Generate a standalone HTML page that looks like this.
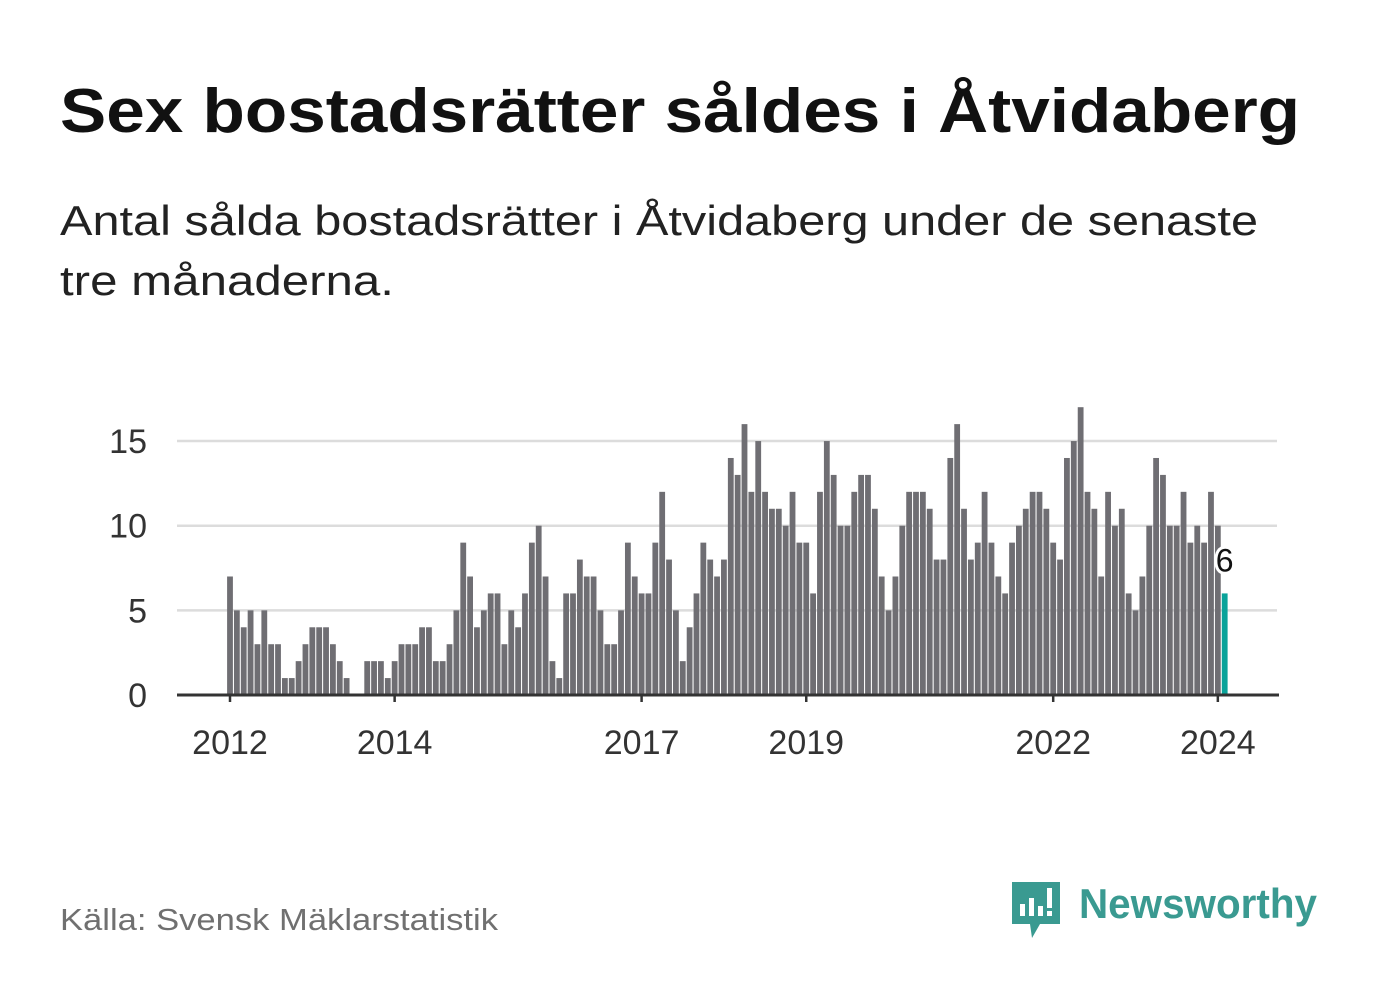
<!DOCTYPE html>
<html><head><meta charset="utf-8"><style>
html,body{margin:0;padding:0;background:#fff;}
svg{display:block;font-family:"Liberation Sans",sans-serif;}
</style></head><body>
<svg id="chart" width="1382" height="999" viewBox="0 0 1382 999">
<text x="60" y="132" font-size="62" font-weight="bold" fill="#111" textLength="1240" lengthAdjust="spacingAndGlyphs">Sex bostadsrätter såldes i Åtvidaberg</text>
<text x="60" y="235" font-size="42" fill="#222" textLength="1198" lengthAdjust="spacingAndGlyphs">Antal sålda bostadsrätter i Åtvidaberg under de senaste</text>
<text x="60" y="295" font-size="42" fill="#222" textLength="334" lengthAdjust="spacingAndGlyphs">tre månaderna.</text>
<g id="grid"></g>
<g id="bars"></g>
<g id="axes"></g>
<text x="60" y="930" font-size="31" fill="#707070" textLength="438" lengthAdjust="spacingAndGlyphs">Källa: Svensk Mäklarstatistik</text>
<g>
<path d="M1012 882 h48 v42 h-20 l-8 14 l-2 -14 h-18 z" fill="#3a9a91"/>
<rect x="1020" y="904" width="5" height="12" fill="#fff"/>
<rect x="1029" y="898" width="5" height="18" fill="#fff"/>
<rect x="1038" y="906" width="5" height="10" fill="#fff"/>
<rect x="1047" y="888" width="5" height="20" fill="#fff"/>
<rect x="1047" y="911" width="5" height="5" fill="#fff"/>
<text x="1079" y="918" font-size="42" font-weight="bold" fill="#3a9a91" textLength="238" lengthAdjust="spacingAndGlyphs">Newsworthy</text>
</g>
</svg>
<script>
const values=[7,5,4,5,3,5,3,3,1,1,2,3,4,4,4,3,2,1,0,0,2,2,2,1,2,3,3,3,4,4,2,2,3,5,9,7,4,5,6,6,3,5,4,6,9,10,7,2,1,6,6,8,
7,7,5,3,3,5,9,7,6,6,9,12,8,5,2,4,6,9,8,7,8,14,13,16,12,15,12,11,11,10,12,9,9,6,12,15,13,10,10,12,13,13,11,7,5,7,10,
12,12,12,11,8,8,14,16,11,8,9,12,9,7,6,9,10,11,12,12,11,9,8,14,15,17,12,11,7,12,10,11,6,5,7,10,14,13,10,10,12,9,10,9,12,10,6];
const startYear=2012;
const yTicks=[0,5,10,15];
const xTickYears=[2012,2014,2017,2019,2022,2024];
const NS="http://www.w3.org/2000/svg";
const x0=230, monthW=6.86, yBase=695, unit=16.93;
const xScale=i=>x0+i*monthW;
const yScale=v=>yBase-v*unit;
function mk(tag,attrs,parent){const e=document.createElementNS(NS,tag);for(const k in attrs)e.setAttribute(k,attrs[k]);parent.appendChild(e);return e;}
const grid=document.getElementById('grid'),bars=document.getElementById('bars'),axes=document.getElementById('axes');
yTicks.forEach(t=>{
  if(t>0){const l=mk('line',{x1:177,x2:1277,y1:yScale(t),y2:yScale(t),stroke:'#dcdcdc','stroke-width':2.5},grid);
  
  }
  const tx=mk('text',{x:147,y:yScale(t)+12,'font-size':34,fill:'#333','text-anchor':'end'},axes);
  tx.textContent=t;
  
  
});
values.forEach((v,i)=>{
  const last=i===values.length-1;
  const r=mk('rect',{x:xScale(i)-2.9,y:yScale(v),width:5.8,height:v*unit,fill:last?'#0aa39a':'#6f6e73'},bars);
  
  
});
const al=mk('line',{x1:177,x2:1279,y1:yBase,y2:yBase,stroke:'#333','stroke-width':3},axes);


xTickYears.forEach(yr=>{
  const x=xScale((yr-startYear)*12);
  const tk=mk('line',{x1:x,x2:x,y1:yBase,y2:yBase+7,stroke:'#333','stroke-width':2.5},axes);
  
  
  const tx=mk('text',{x:x,y:yBase+59,'font-size':34,fill:'#333','text-anchor':'middle'},axes);
  tx.textContent=yr;
  
  
});
const li=values.length-1;
const lbl=mk('text',{x:xScale(li),y:yScale(values[li])-22,'font-size':32,fill:'#111','text-anchor':'middle',stroke:'#fff','stroke-width':6,'paint-order':'stroke'},axes);
lbl.textContent=values[li];


</script>
</body></html>
